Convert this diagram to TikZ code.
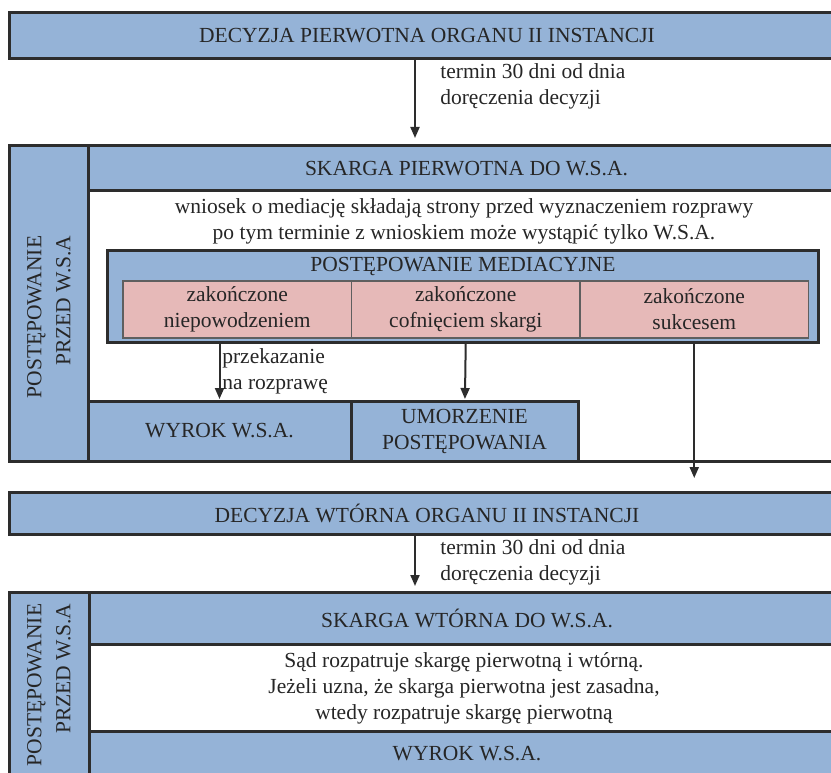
\documentclass[tikz,border=0pt]{standalone}
\usepackage{fontspec}
\setmainfont{Liberation Serif}
\usepackage{xcolor}
\usetikzlibrary{positioning, arrows.meta}

\definecolor{boxblue}{RGB}{149,179,215}
\definecolor{cellpink}{RGB}{230,185,184}
\definecolor{edgedark}{RGB}{45,45,45}
\definecolor{edgegray}{RGB}{95,95,95}

\begin{document}
\begin{tikzpicture}[x=1pt, y=-1pt]

	\tikzstyle{every node} = [font=\fontsize{21.5}{26}\selectfont, text=black!85, outer sep=0pt]
	\tikzstyle{bar} = [draw=edgedark, line width=3pt, fill=boxblue, inner sep=0pt, anchor=north west, align=center]
	\tikzstyle{cell} = [draw=edgegray, line width=1.2pt, fill=cellpink, inner sep=0pt, anchor=north west, align=center, minimum width=228.5pt, minimum height=57pt]
	\tikzstyle{side} = [rotate=90, align=right, font=\fontsize{21.5}{29}\selectfont]
	\tikzstyle{flow} = [line width=2pt, draw=edgedark, -{Triangle[length=11pt, width=9pt]}]

	\useasboundingbox (0,0) rectangle (831,773);
	\clip (0,0) rectangle (831,773);

	% pierwsza decyzja
	\node[bar, minimum width=836pt, minimum height=46pt] (decA) at (9,13) {DECYZJA PIERWOTNA ORGANU II INSTANCJI};
	\coordinate (downA) at (415,0);
	\node[anchor=west, align=left] (termA) at (437,86) {termin 30 dni od dnia\\doręczenia decyzji};

	% postepowanie przed W.S.A. (1)
	\node[bar, fill=white, minimum width=836pt, minimum height=315pt] (frameA) at (9,146) {};
	\node[bar, minimum width=79pt, minimum height=315pt] (colA) at (9,146) {};
	\node[side] (sideA) at (49,317) {POSTĘPOWANIE\\PRZED W.S.A};
	\node[bar, minimum width=757pt, minimum height=45pt] (skA) at (88,146) {SKARGA PIERWOTNA DO W.S.A.};
	\node[align=center] (noteA) at (464,221) {wniosek o mediację składają strony przed wyznaczeniem rozprawy\\po tym terminie z wnioskiem może wystąpić tylko W.S.A.};

	% mediacja
	\node[bar, minimum width=711pt, minimum height=91pt] (medA) at (107,251) {};
	\node (medT) at (463,266) {POSTĘPOWANIE MEDIACYJNE};
	\node[cell] (cellA) at (123,281) {zakończone\\niepowodzeniem};
	\node[cell, right=0pt of cellA] (cellB) {zakończone\\cofnięciem skargi};
	\node[cell, right=0pt of cellB] (cellC) {zakończone\\sukcesem};

	\node[bar, minimum width=263pt, minimum height=60pt] (wyrA) at (88,401) {WYROK W.S.A.};
	\node[bar, minimum width=227pt, minimum height=60pt, right=0pt of wyrA] (umA) {UMORZENIE\\POSTĘPOWANIA};
	\node[anchor=west, align=left] (passA) at (219,371) {przekazanie\\na rozprawę};

	% wtorna decyzja
	\node[bar, minimum width=836pt, minimum height=42pt] (decB) at (9,492) {DECYZJA WTÓRNA ORGANU II INSTANCJI};
	\node[anchor=west, align=left] (termB) at (437,562) {termin 30 dni od dnia\\doręczenia decyzji};

	% postepowanie przed W.S.A. (2)
	\node[bar, fill=white, minimum width=836pt, minimum height=200pt] (frameB) at (9,592) {};
	\node[bar, minimum width=80pt, minimum height=200pt] (colB) at (9,592) {};
	\node[side] (sideB) at (49,685) {POSTĘPOWANIE\\PRZED W.S.A};
	\node[bar, minimum width=756pt, minimum height=52pt] (skB) at (89,592) {SKARGA WTÓRNA DO W.S.A.};
	\node[align=center] (noteB) at (464,688) {Sąd rozpatruje skargę pierwotną i wtórną.\\Jeżeli uzna, że skarga pierwotna jest zasadna,\\wtedy rozpatruje skargę pierwotną};
	\node[bar, minimum width=756pt, minimum height=46pt] (wyrB) at (89,731) {WYROK W.S.A.};

	% strzalki
	\draw[flow, shorten >=8pt] (decA.south -| downA) -- (frameA.north -| downA);
	\draw[flow, shorten >=2pt] (medA.south -| wyrA) -- (wyrA);
	\draw[flow, shorten >=2pt] (medA.south -| cellB) -- (umA);
	\draw[flow, shorten >=14pt] (medA.south -| cellC) -- (decB.north -| cellC);
	\draw[flow, shorten >=6pt] (decB.south -| downA) -- (frameB.north -| downA);

\end{tikzpicture}
\end{document}
